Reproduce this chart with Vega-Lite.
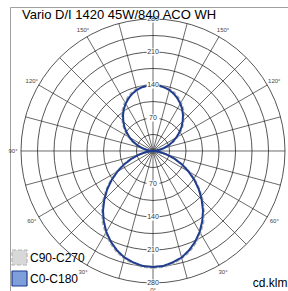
{
"$schema":"https://vega.github.io/schema/vega-lite/v6.json",
"width":278,"height":284,
"autosize":{"type":"none"},
"padding":{"left":10,"top":7,"right":0,"bottom":0},
"background":"white",
"config":{"view":{"stroke":null},"font":"Liberation Sans"},
"title":{"text":"Vario D/I 1420 45W/840 ACO WH","anchor":"start","frame":"group","orient":"top","offset":-15,"dx":12,"fontSize":13,"fontWeight":"normal","color":"#000","font":"Liberation Sans"},
"datasets":{
"rings":[{"r":35},{"r":70},{"r":105},{"r":140},{"r":175},{"r":210},{"r":245},{"r":280}],
"spokes":[{"a":0},{"a":15},{"a":30},{"a":45},{"a":60},{"a":75},{"a":90},{"a":105},{"a":120},{"a":135},{"a":150},{"a":165},{"a":180},{"a":195},{"a":210},{"a":225},{"a":240},{"a":255},{"a":270},{"a":285},{"a":300},{"a":315},{"a":330},{"a":345}],
"labels":[{"t":"70","r":70,"a":0},{"t":"140","r":140,"a":0},{"t":"210","r":210,"a":0},{"t":"280","r":280,"a":0},{"t":"70","r":70,"a":180},{"t":"140","r":140,"a":180},{"t":"210","r":210,"a":180},{"t":"280","r":280,"a":180},
{"t":"0°","r":295,"a":0},{"t":"30°","r":297,"a":30},{"t":"30°","r":297,"a":330},{"t":"60°","r":297,"a":60},{"t":"60°","r":297,"a":300},{"t":"90°","r":297,"a":270},{"t":"120°","r":297,"a":120},{"t":"120°","r":297,"a":240},{"t":"150°","r":297,"a":150},{"t":"150°","r":297,"a":210}],
"curves":[
{"s":"C90-C270","g":0,"i":248},{"s":"C90-C270","g":5,"i":247},{"s":"C90-C270","g":10,"i":243},{"s":"C90-C270","g":15,"i":236},{"s":"C90-C270","g":20,"i":227},{"s":"C90-C270","g":25,"i":215},{"s":"C90-C270","g":30,"i":201},{"s":"C90-C270","g":35,"i":186},{"s":"C90-C270","g":40,"i":168},{"s":"C90-C270","g":45,"i":150},{"s":"C90-C270","g":50,"i":130},{"s":"C90-C270","g":55,"i":110},{"s":"C90-C270","g":60,"i":90},{"s":"C90-C270","g":65,"i":70},{"s":"C90-C270","g":70,"i":51},{"s":"C90-C270","g":75,"i":34},{"s":"C90-C270","g":80,"i":19},{"s":"C90-C270","g":85,"i":7},{"s":"C90-C270","g":90,"i":0},
{"s":"C90-C270","g":95,"i":6},{"s":"C90-C270","g":100,"i":15},{"s":"C90-C270","g":105,"i":26},{"s":"C90-C270","g":110,"i":37},{"s":"C90-C270","g":115,"i":48},{"s":"C90-C270","g":120,"i":60},{"s":"C90-C270","g":125,"i":71},{"s":"C90-C270","g":130,"i":82},{"s":"C90-C270","g":135,"i":92},{"s":"C90-C270","g":140,"i":102},{"s":"C90-C270","g":145,"i":111},{"s":"C90-C270","g":150,"i":119},{"s":"C90-C270","g":155,"i":126},{"s":"C90-C270","g":160,"i":132},{"s":"C90-C270","g":165,"i":136},{"s":"C90-C270","g":170,"i":139},{"s":"C90-C270","g":175,"i":141},{"s":"C90-C270","g":180,"i":142},
{"s":"C90-C270","g":185,"i":141},{"s":"C90-C270","g":190,"i":139},{"s":"C90-C270","g":195,"i":136},{"s":"C90-C270","g":200,"i":132},{"s":"C90-C270","g":205,"i":126},{"s":"C90-C270","g":210,"i":119},{"s":"C90-C270","g":215,"i":111},{"s":"C90-C270","g":220,"i":102},{"s":"C90-C270","g":225,"i":92},{"s":"C90-C270","g":230,"i":82},{"s":"C90-C270","g":235,"i":71},{"s":"C90-C270","g":240,"i":60},{"s":"C90-C270","g":245,"i":48},{"s":"C90-C270","g":250,"i":37},{"s":"C90-C270","g":255,"i":26},{"s":"C90-C270","g":260,"i":15},{"s":"C90-C270","g":265,"i":6},{"s":"C90-C270","g":270,"i":0},
{"s":"C90-C270","g":275,"i":7},{"s":"C90-C270","g":280,"i":19},{"s":"C90-C270","g":285,"i":34},{"s":"C90-C270","g":290,"i":51},{"s":"C90-C270","g":295,"i":70},{"s":"C90-C270","g":300,"i":90},{"s":"C90-C270","g":305,"i":110},{"s":"C90-C270","g":310,"i":130},{"s":"C90-C270","g":315,"i":150},{"s":"C90-C270","g":320,"i":168},{"s":"C90-C270","g":325,"i":186},{"s":"C90-C270","g":330,"i":201},{"s":"C90-C270","g":335,"i":215},{"s":"C90-C270","g":340,"i":227},{"s":"C90-C270","g":345,"i":236},{"s":"C90-C270","g":350,"i":243},{"s":"C90-C270","g":355,"i":247},{"s":"C90-C270","g":360,"i":248},
{"s":"C0-C180","g":0,"i":246},{"s":"C0-C180","g":5,"i":245},{"s":"C0-C180","g":10,"i":240},{"s":"C0-C180","g":15,"i":234},{"s":"C0-C180","g":20,"i":224},{"s":"C0-C180","g":25,"i":212},{"s":"C0-C180","g":30,"i":198},{"s":"C0-C180","g":35,"i":182},{"s":"C0-C180","g":40,"i":165},{"s":"C0-C180","g":45,"i":146},{"s":"C0-C180","g":50,"i":127},{"s":"C0-C180","g":55,"i":107},{"s":"C0-C180","g":60,"i":87},{"s":"C0-C180","g":65,"i":68},{"s":"C0-C180","g":70,"i":49},{"s":"C0-C180","g":75,"i":32},{"s":"C0-C180","g":80,"i":18},{"s":"C0-C180","g":85,"i":6},{"s":"C0-C180","g":90,"i":0},
{"s":"C0-C180","g":95,"i":6},{"s":"C0-C180","g":100,"i":14},{"s":"C0-C180","g":105,"i":24},{"s":"C0-C180","g":110,"i":35},{"s":"C0-C180","g":115,"i":46},{"s":"C0-C180","g":120,"i":57},{"s":"C0-C180","g":125,"i":68},{"s":"C0-C180","g":130,"i":79},{"s":"C0-C180","g":135,"i":89},{"s":"C0-C180","g":140,"i":99},{"s":"C0-C180","g":145,"i":108},{"s":"C0-C180","g":150,"i":116},{"s":"C0-C180","g":155,"i":123},{"s":"C0-C180","g":160,"i":129},{"s":"C0-C180","g":165,"i":134},{"s":"C0-C180","g":170,"i":137},{"s":"C0-C180","g":175,"i":139},{"s":"C0-C180","g":180,"i":140},
{"s":"C0-C180","g":185,"i":139},{"s":"C0-C180","g":190,"i":137},{"s":"C0-C180","g":195,"i":134},{"s":"C0-C180","g":200,"i":129},{"s":"C0-C180","g":205,"i":123},{"s":"C0-C180","g":210,"i":116},{"s":"C0-C180","g":215,"i":108},{"s":"C0-C180","g":220,"i":99},{"s":"C0-C180","g":225,"i":89},{"s":"C0-C180","g":230,"i":79},{"s":"C0-C180","g":235,"i":68},{"s":"C0-C180","g":240,"i":57},{"s":"C0-C180","g":245,"i":46},{"s":"C0-C180","g":250,"i":35},{"s":"C0-C180","g":255,"i":24},{"s":"C0-C180","g":260,"i":14},{"s":"C0-C180","g":265,"i":6},{"s":"C0-C180","g":270,"i":0},
{"s":"C0-C180","g":275,"i":6},{"s":"C0-C180","g":280,"i":18},{"s":"C0-C180","g":285,"i":32},{"s":"C0-C180","g":290,"i":49},{"s":"C0-C180","g":295,"i":68},{"s":"C0-C180","g":300,"i":87},{"s":"C0-C180","g":305,"i":107},{"s":"C0-C180","g":310,"i":127},{"s":"C0-C180","g":315,"i":146},{"s":"C0-C180","g":320,"i":165},{"s":"C0-C180","g":325,"i":182},{"s":"C0-C180","g":330,"i":198},{"s":"C0-C180","g":335,"i":212},{"s":"C0-C180","g":340,"i":224},{"s":"C0-C180","g":345,"i":234},{"s":"C0-C180","g":350,"i":240},{"s":"C0-C180","g":355,"i":245},{"s":"C0-C180","g":360,"i":246}
]},
"layer":[
{"data":{"name":"rings"},
 "mark":{"type":"point","shape":"circle","filled":false,"stroke":"#2a2a2a","strokeWidth":0.8,"opacity":1},
 "encoding":{
  "x":{"datum":0,"type":"quantitative","scale":{"domain":[-303.33,286.36],"nice":false,"zero":false},"axis":{"orient":"top","domain":true,"domainColor":"#a0a0a0","ticks":false,"labels":false,"grid":false,"title":null}},
  "y":{"datum":0,"type":"quantitative","scale":{"domain":[-296.97,305.45],"nice":false,"zero":false},"axis":{"orient":"left","domain":true,"domainColor":"#a0a0a0","ticks":false,"labels":false,"grid":false,"title":"cd.klm","titleAngle":0,"titleX":277,"titleY":275,"titleAlign":"right","titleBaseline":"middle","titleFontSize":12,"titleFontWeight":"normal","titleColor":"#000000","titleFont":"Liberation Sans"}},
  "size":{"field":"r","type":"quantitative","scale":{"type":"pow","exponent":2,"domain":[0,280],"range":[0,69696],"zero":true},"legend":null}}},
{"data":{"name":"spokes"},
 "transform":[{"calculate":"280*sin(datum.a*PI/180)","as":"sx"},{"calculate":"-280*cos(datum.a*PI/180)","as":"sy"}],
 "mark":{"type":"rule","stroke":"#2a2a2a","strokeWidth":0.7},
 "encoding":{"x":{"field":"sx","type":"quantitative"},"y":{"field":"sy","type":"quantitative"},"x2":{"datum":0},"y2":{"datum":0}}},
{"data":{"name":"curves"},
 "transform":[{"calculate":"datum.i*sin(datum.g*PI/180)","as":"x"},{"calculate":"-datum.i*cos(datum.g*PI/180)","as":"y"}],
 "mark":{"type":"line","strokeWidth":2},
 "encoding":{"x":{"field":"x","type":"quantitative"},"y":{"field":"y","type":"quantitative"},"order":{"field":"g","type":"quantitative"},
  "color":{"field":"s","type":"nominal","scale":{"domain":["C90-C270","C0-C180"],"range":["#b4b4b4","#1f3c8f"]},
   "legend":{"orient":"none","legendX":1,"legendY":242,"title":null,"symbolType":"square","symbolSize":225,"symbolStrokeWidth":1.2,"labelFontSize":12,"labelFont":"Liberation Sans","labelColor":"#000000","rowPadding":0,"labelOffset":2,
    "encode":{"symbols":{"update":{"fill":{"signal":"datum.value === 'C0-C180' ? '#7e9fd9' : '#d8d8d8'"},"fillOpacity":{"value":1}}}}}},
  "strokeDash":{"field":"s","type":"nominal","scale":{"domain":["C90-C270","C0-C180"],"range":[[4,2],[1,0]]}}}},
{"data":{"name":"labels"},
 "transform":[{"filter":"datum.r<=280"},{"calculate":"datum.r*sin(datum.a*PI/180)","as":"lx"},{"calculate":"-datum.r*cos(datum.a*PI/180)","as":"ly"}],
 "mark":{"type":"point","shape":"M-1.6,-0.9H1.6V0.9H-1.6Z","filled":true,"fill":"white","strokeWidth":0,"size":64,"opacity":1},
 "encoding":{"x":{"field":"lx","type":"quantitative"},"y":{"field":"ly","type":"quantitative"}}},
{"data":{"name":"labels"},
 "transform":[{"filter":"datum.r<=280"},{"calculate":"datum.r*sin(datum.a*PI/180)","as":"lx"},{"calculate":"-datum.r*cos(datum.a*PI/180)","as":"ly"}],
 "mark":{"type":"text","fontSize":7,"color":"#333333","font":"Liberation Sans"},
 "encoding":{"x":{"field":"lx","type":"quantitative"},"y":{"field":"ly","type":"quantitative"},"text":{"field":"t"}}},
{"data":{"name":"labels"},
 "transform":[{"filter":"datum.r>280"},{"calculate":"datum.r*sin(datum.a*PI/180)","as":"lx"},{"calculate":"-datum.r*cos(datum.a*PI/180)","as":"ly"}],
 "mark":{"type":"text","fontSize":6,"color":"#444444","font":"Liberation Sans"},
 "encoding":{"x":{"field":"lx","type":"quantitative"},"y":{"field":"ly","type":"quantitative"},"text":{"field":"t"}}}
]
}
